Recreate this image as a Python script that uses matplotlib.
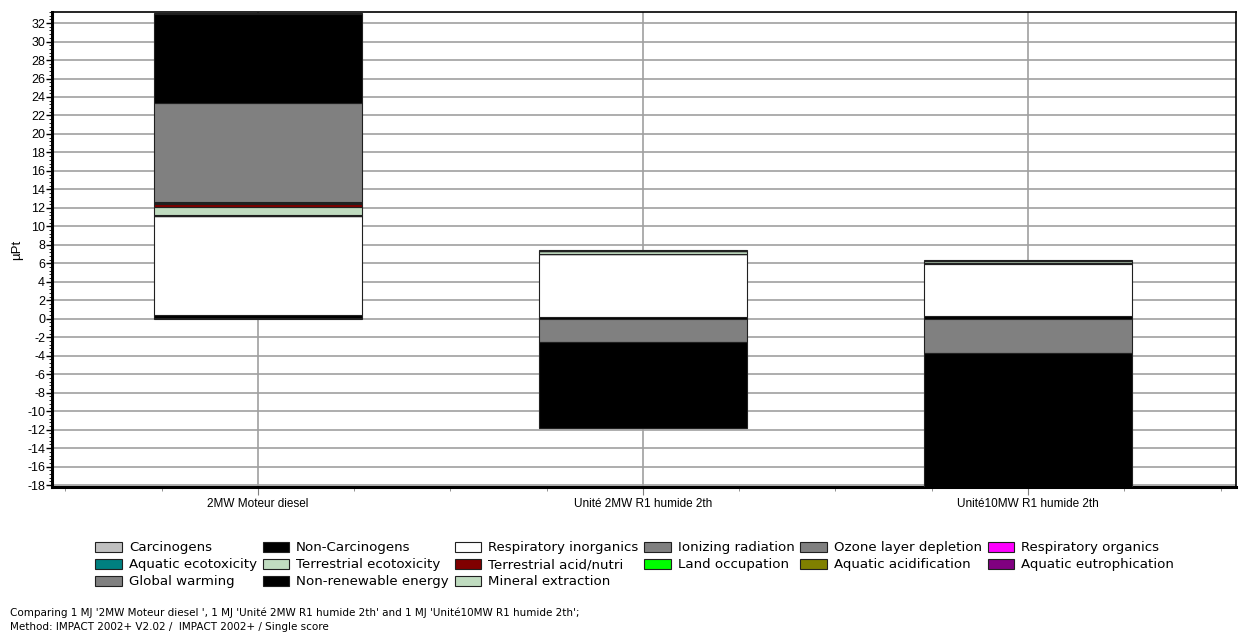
import numpy as np
import matplotlib.pyplot as plt
from matplotlib.patches import Patch
from matplotlib.ticker import MultipleLocator, AutoMinorLocator

plt.rcParams['font.family'] = ['DejaVu Sans']
plt.rcParams['axes.unicode_minus'] = False

products = ["2MW Moteur diesel", "Unité 2MW R1 humide 2th", "Unité10MW R1 humide 2th"]

categories = [
    "Carcinogens", "Non-Carcinogens", "Respiratory inorganics", "Ionizing radiation",
    "Ozone layer depletion", "Respiratory organics", "Aquatic ecotoxicity",
    "Terrestrial ecotoxicity", "Terrestrial acid/nutri", "Land occupation",
    "Aquatic acidification", "Aquatic eutrophication", "Global warming",
    "Non-renewable energy", "Mineral extraction",
]
colors = [
    "#c0c0c0", "#000000", "#ffffff", "#808080",
    "#808080", "#ff00ff", "#008080",
    "#c0dcc0", "#800000", "#00ff00",
    "#808000", "#800080", "#808080",
    "#000000", "#c0dcc0",
]

# single score per impact category (µPt), one value per product
carcinogens = [0.08, 0.03, 0.03]
non_carcinogens = [0.30, 0.12, 0.22]
resp_inorganics = [10.70, 6.85, 5.73]
ionizing = [0.02, 0.01, 0.01]
ozone = [0.003, 0.002, 0.002]
resp_organics = [0.005, 0.003, 0.003]
aquatic_ecotox = [0.08, 0.03, 0.03]
terrestrial_ecotox = [0.90, 0.25, 0.20]
terrestrial_acid = [0.35, 0.03, 0.02]
land_occupation = [0.05, 0.01, 0.01]
aquatic_acid = [0.01, 0.005, 0.005]
aquatic_eutro = [0.10, 0.02, 0.02]
global_warming = [10.80, -2.55, -3.70]
non_renewable = [9.60, -9.30, -14.60]
mineral = [0.05, 0.03, 0.04]

series = [carcinogens, non_carcinogens, resp_inorganics, ionizing, ozone,
          resp_organics, aquatic_ecotox, terrestrial_ecotox, terrestrial_acid,
          land_occupation, aquatic_acid, aquatic_eutro, global_warming,
          non_renewable, mineral]

fig = plt.figure(figsize=(12.4, 6.37), dpi=100)
ax = fig.add_axes([0.0419, 0.2355, 0.9548, 0.7457])

x = np.arange(len(products))
pos_base = np.zeros(len(products))
neg_base = np.zeros(len(products))
for vals, col in zip(series, colors):
    v = np.array(vals, dtype=float)
    base = np.where(v >= 0, pos_base, neg_base)
    ax.bar(x, v, bottom=base, width=0.54, color=col, edgecolor="#202020",
           linewidth=0.8, zorder=3)
    pos_base += np.where(v >= 0, v, 0)
    neg_base += np.where(v < 0, v, 0)

ax.set_xlim(-0.535, 2.54)
ax.set_ylim(-18.2, 33.2)
ax.yaxis.set_major_locator(MultipleLocator(2))
ax.yaxis.set_minor_locator(AutoMinorLocator(5))
ax.set_xticks(x)
ax.set_xticklabels(products, fontsize=8.5, family="Liberation Sans")
for lab in ax.get_yticklabels():
    lab.set_family("Liberation Sans")
ax.xaxis.set_minor_locator(MultipleLocator(0.25))
ax.tick_params(axis="y", labelsize=9, length=4, width=1, pad=1)
ax.tick_params(axis="y", which="minor", length=2)
ax.tick_params(axis="x", length=6, color="#808080", pad=2)
ax.tick_params(axis="x", which="minor", length=3, color="#808080")
ax.set_ylabel("µPt", fontsize=9.5, labelpad=3, family="Liberation Sans")
ax.grid(True, axis="both", which="major", color="#a0a0a0", linewidth=1.2, zorder=0)

for side in ["left", "bottom"]:
    ax.spines[side].set_linewidth(2.2)
for side in ["top", "right"]:
    ax.spines[side].set_linewidth(1.2)

# legend laid out row by row in 6 columns (matplotlib fills column-major)
order = [0, 6, 12, 1, 7, 13, 2, 8, 14, 3, 9, 4, 10, 5, 11]
handles = [Patch(facecolor=colors[i], edgecolor="#202020", linewidth=0.8) for i in order]
labels = [categories[i] for i in order]
fig.legend(handles, labels, ncol=6, loc="upper left", bbox_to_anchor=(0.077, 0.150),
           frameon=False, fontsize=9.6, handlelength=2.0, handleheight=0.85,
           handletextpad=0.5, columnspacing=0.45, labelspacing=0.3,
           borderaxespad=0, borderpad=0)

fig.text(0.008, 0.038, "Comparing 1 MJ '2MW Moteur diesel ', 1 MJ 'Unité 2MW R1 humide 2th' and 1 MJ 'Unité10MW R1 humide 2th';",
         fontsize=7.5, va="center")
fig.text(0.008, 0.016, "Method: IMPACT 2002+ V2.02 /  IMPACT 2002+ / Single score",
         fontsize=7.5, va="center")

fig.savefig("out.png", dpi=100)
